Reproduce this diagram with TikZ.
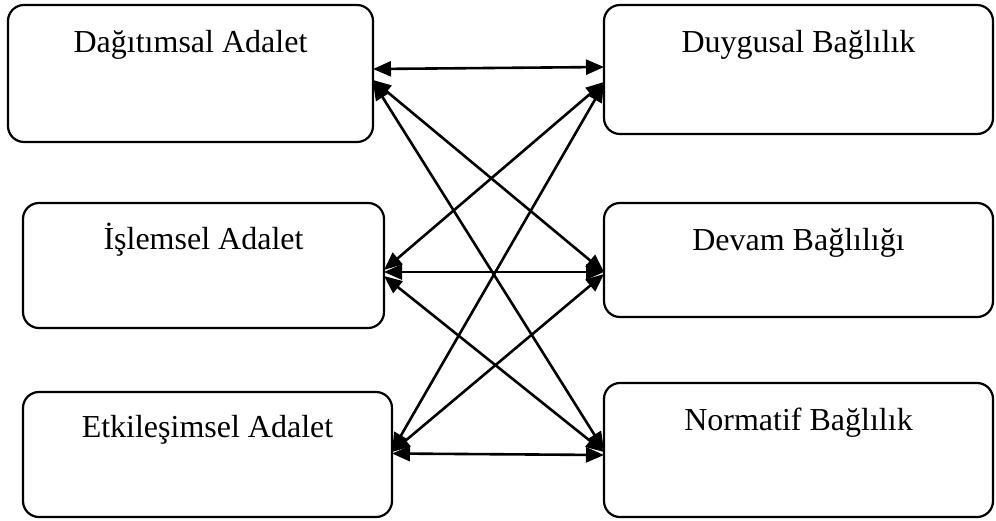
\documentclass[tikz,border=0pt]{standalone}
\usepackage{fontspec}
\setmainfont{Liberation Serif}
\usetikzlibrary{arrows.meta}
\begin{document}
\begin{tikzpicture}[x=1pt,y=-1pt,
  box/.style={draw=black, line width=2.2pt, rounded corners=16pt, inner sep=0pt, outer sep=0pt, fill=white},
  lbl/.style={anchor=base, inner sep=0pt, font=\fontsize{32}{38}\selectfont},
  conn/.style={line width=2.6pt, {Triangle[length=18pt,width=15pt]}-{Triangle[length=18pt,width=15pt]}}]
\useasboundingbox (0,0) rectangle (996,520);
% boxes
\node[box, minimum width=365pt, minimum height=137pt] (A) at (190.5,73.5) {};
\node[box, minimum width=361pt, minimum height=125pt] (B) at (203.5,265.5) {};
\node[box, minimum width=369pt, minimum height=125pt] (C) at (207.5,454.5) {};
\node[box, minimum width=389pt, minimum height=129pt] (D) at (798.5,69.5) {};
\node[box, minimum width=389pt, minimum height=114pt] (E) at (798.5,260) {};
\node[box, minimum width=389pt, minimum height=134pt] (F) at (798.5,450) {};
% labels
\node[lbl] (tA) at ([yshift=-47pt]A.north) {Dağıtımsal Adalet};
\node[lbl] (tB) at ([yshift=-46pt]B.north) {İşlemsel Adalet};
\node[lbl] (tC) at ([yshift=-45pt]C.north) {Etkileşimsel Adalet};
\node[lbl] (tD) at ([yshift=-47pt]D.north) {Duygusal Bağlılık};
\node[lbl] (tE) at ([yshift=-47pt]E.north) {Devam Bağlılığı};
\node[lbl] (tF) at ([yshift=-47pt]F.north) {Normatif Bağlılık};
% connectors
\draw[conn] ([yshift=4.5pt]A.east) -- ([yshift=2.5pt]D.west);
\draw[conn] ([yshift=-6.5pt]A.east) -- ([yshift=-12pt]E.west);
\draw[conn] ([yshift=-8.5pt]A.east) -- ([yshift=0pt]F.west);
\draw[conn] ([yshift=-4.5pt]B.east) -- ([yshift=-12.5pt]D.west);
\draw[conn] ([yshift=-6.5pt]B.east) -- ([yshift=-12pt]E.west);
\draw[conn] ([yshift=-10.5pt]B.east) -- ([yshift=-2pt]F.west);
\draw[conn] ([yshift=3.5pt]C.east) -- ([yshift=-14.5pt]D.west);
\draw[conn] ([yshift=2.5pt]C.east) -- ([yshift=-14pt]E.west);
\draw[conn] ([yshift=1pt]C.east) -- ([yshift=-5pt]F.west);
\end{tikzpicture}
\end{document}
